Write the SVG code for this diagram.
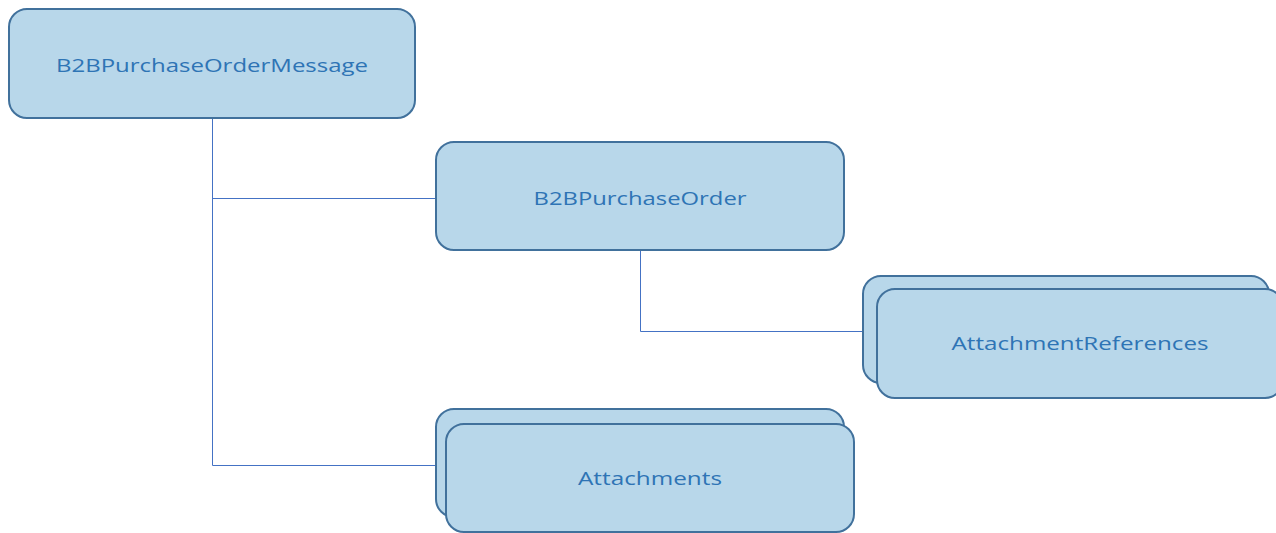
<svg xmlns="http://www.w3.org/2000/svg" width="1276" height="533" viewBox="0 0 1276 533">
<style>
.box{fill:#B8D7EA;stroke:#41719C;stroke-width:2}
.lbl{font-family:"Open Sans","Liberation Sans",sans-serif;font-size:19px;fill:#2E74B5;text-anchor:middle;dominant-baseline:central}
.conn{fill:none;stroke:#4472C4;stroke-width:1}
</style>
<rect width="1276" height="533" fill="#fff"/>
<g id="connectors">
<path class="conn" d="M212.5 119V465.5H436M212.5 198.5H436"/>
<path class="conn" d="M640.5 250V331.5H863"/>
</g>
<g id="node-message">
<rect class="box" x="9" y="9" width="406" height="109" rx="18"/>
<text class="lbl" x="212" y="65" textLength="312" lengthAdjust="spacingAndGlyphs">B2BPurchaseOrderMessage</text>
</g>
<g id="node-order">
<rect class="box" x="436" y="142" width="408" height="108" rx="18"/>
<text class="lbl" x="640" y="198" textLength="213" lengthAdjust="spacingAndGlyphs">B2BPurchaseOrder</text>
</g>
<g id="node-attachmentreferences">
<rect class="box" x="863" y="276" width="406" height="107" rx="18"/>
<rect class="box" x="877" y="289" width="406" height="109" rx="18"/>
<text class="lbl" x="1080" y="343" textLength="257" lengthAdjust="spacingAndGlyphs">AttachmentReferences</text>
</g>
<g id="node-attachments">
<rect class="box" x="436" y="409" width="408" height="108" rx="18"/>
<rect class="box" x="446" y="424" width="408" height="108" rx="18"/>
<text class="lbl" x="650" y="478" textLength="144" lengthAdjust="spacingAndGlyphs">Attachments</text>
</g>
</svg>
